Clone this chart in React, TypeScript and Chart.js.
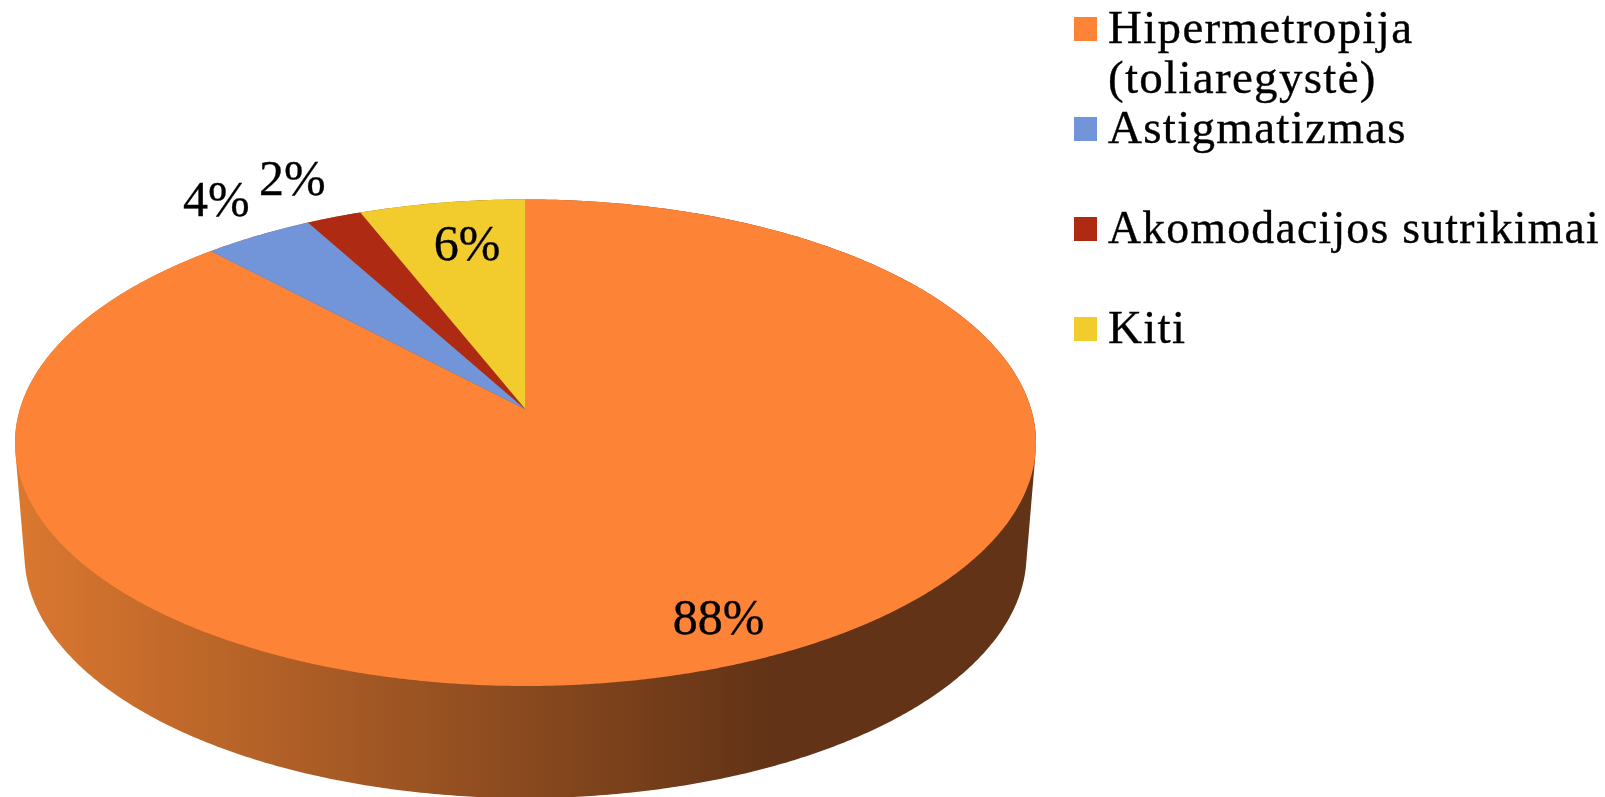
import React, { useEffect, useRef } from "react";
import { Chart, registerables, ArcElement } from "chart.js";

Chart.register(...registerables);

const categories = [["Hipermetropija", "(toliaregystė)"], ["Astigmatizmas"], ["Akomodacijos sutrikimai"], ["Kiti"]];
const shares = [88, 4, 2, 6];
const sliceColors = ["#FD8337", "#7294D8", "#AE2A12", "#F2CB2C"];
const labelRadii = [0.86, 1.2, 1.22, 0.76];
const labelAngleShifts = [-0.03, 0.012, -0.01, 0.02];

const WIDTH = 1605;
const HEIGHT = 797;
const TILT = 243.3 / 510.5;
const PERSPECTIVE = 0.137;
const FONT = '"Liberation Serif", serif';
const LEGEND_TEXT_WIDTH = 492;

type ArcLike = { x: number; y: number; outerRadius: number; startAngle: number; endAngle: number; options: any };

// Maps a point of the flat pie (angle, fraction of radius) on to the tilted, perspective disc.
function project(el: ArcLike, angle: number, r: number) {
  const u = r * Math.cos(angle);
  const v = -r * Math.sin(angle);
  const d = 1 + PERSPECTIVE * v;
  const k = Math.sqrt(1 - PERSPECTIVE * PERSPECTIVE);
  return {
    x: el.x + (el.outerRadius * (u * k)) / d,
    y: el.y - (el.outerRadius * TILT * (v + PERSPECTIVE)) / d,
  };
}

(ArcElement.prototype as any).draw = function (this: ArcLike, ctx: CanvasRenderingContext2D) {
  const steps = Math.max(2, Math.ceil((this.endAngle - this.startAngle) / 0.005));
  ctx.save();
  ctx.beginPath();
  const apex = project(this, 0, 0);
  ctx.moveTo(apex.x, apex.y);
  for (let i = 0; i <= steps; i++) {
    const p = project(this, this.startAngle + ((this.endAngle - this.startAngle) * i) / steps, 1);
    ctx.lineTo(p.x, p.y);
  }
  ctx.closePath();
  ctx.fillStyle = this.options.backgroundColor;
  ctx.fill();
  ctx.restore();
};

function convexHull(points: { x: number; y: number }[]) {
  const pts = [...points].sort((a, b) => a.x - b.x || a.y - b.y);
  const cross = (o: any, a: any, b: any) => (a.x - o.x) * (b.y - o.y) - (a.y - o.y) * (b.x - o.x);
  const half = (list: typeof pts) => {
    const out: typeof pts = [];
    for (const p of list) {
      while (out.length >= 2 && cross(out[out.length - 2], out[out.length - 1], p) <= 0) out.pop();
      out.push(p);
    }
    out.pop();
    return out;
  };
  return [...half(pts), ...half([...pts].reverse())];
}

const sideWall = {
  id: "sideWall",
  beforeDatasetsDraw(chart: any) {
    const el = chart.getDatasetMeta(0).data[0];
    const { ctx } = chart;
    const pts: { x: number; y: number }[] = [];
    const A = el.outerRadius;
    const B = A * TILT;
    const lowerA = A * 0.9814;
    const lowerDrop = 112;
    for (let i = 0; i < 720; i++) {
      const t = (i / 720) * Math.PI * 2;
      pts.push({ x: el.x + A * Math.cos(t), y: el.y + B * Math.sin(t) });
      pts.push({ x: el.x + lowerA * Math.cos(t), y: el.y + lowerDrop + B * Math.sin(t) });
    }
    const hull = convexHull(pts);
    const g = ctx.createLinearGradient(15, 0, 770, 0);
    g.addColorStop(0, "#DB7830");
    g.addColorStop(1, "#623316");
    ctx.save();
    ctx.beginPath();
    hull.forEach((p, i) => (i ? ctx.lineTo(p.x, p.y) : ctx.moveTo(p.x, p.y)));
    ctx.closePath();
    ctx.fillStyle = g;
    ctx.fill();
    ctx.restore();
  },
};

const annotations = {
  id: "annotations",
  afterDatasetsDraw(chart: any) {
    const { ctx } = chart;
    const arcs = chart.getDatasetMeta(0).data;
    ctx.save();
    ctx.fillStyle = "#000";
    ctx.strokeStyle = "#000";
    ctx.lineWidth = 0.35;
    ctx.textBaseline = "middle";
    ctx.textAlign = "center";
    ctx.font = `50px ${FONT}`;
    arcs.forEach((el: ArcLike, i: number) => {
      const p = project(el, (el.startAngle + el.endAngle) / 2 + labelAngleShifts[i], labelRadii[i]);
      ctx.fillText(`${shares[i]}%`, p.x, p.y);
      ctx.strokeText(`${shares[i]}%`, p.x, p.y);
    });
    ctx.textAlign = "left";
    ctx.textBaseline = "alphabetic";
    ctx.font = `47px ${FONT}`;
    (ctx as any).letterSpacing = "1.3px";
    categories.forEach((lines, i) => {
      const top = 17 + i * 100;
      ctx.fillStyle = sliceColors[i];
      ctx.fillRect(1074, top, 23, 24);
      ctx.fillStyle = "#000";
      lines.forEach((line, j) => {
        ctx.fillText(line, 1108, top + 26 + j * 50, LEGEND_TEXT_WIDTH);
        ctx.strokeText(line, 1108, top + 26 + j * 50, LEGEND_TEXT_WIDTH);
      });
    });
    ctx.restore();
  },
};

export default function App() {
  const ref = useRef<HTMLCanvasElement>(null);
  useEffect(() => {
    const chart = new Chart(ref.current!, {
      type: "pie",
      data: {
        labels: categories.map((c) => c.join(" ")),
        datasets: [{ data: shares, backgroundColor: sliceColors, borderWidth: 0, clip: false } as any],
      },
      options: {
        animation: false,
        responsive: false,
        devicePixelRatio: 1,
        radius: 510.5,
        layout: { padding: { left: 0, right: 554, top: 88.4, bottom: 0 } },
        plugins: { legend: { display: false }, tooltip: { enabled: false }, title: { display: false } },
      } as any,
      plugins: [sideWall, annotations],
    });
    return () => chart.destroy();
  }, []);
  return (
    <div style={{ position: "fixed", left: 0, top: 0, width: WIDTH, height: HEIGHT, background: "#fff", overflow: "hidden" }}>
      <canvas ref={ref} width={WIDTH} height={HEIGHT} style={{ display: "block" }} />
    </div>
  );
}
